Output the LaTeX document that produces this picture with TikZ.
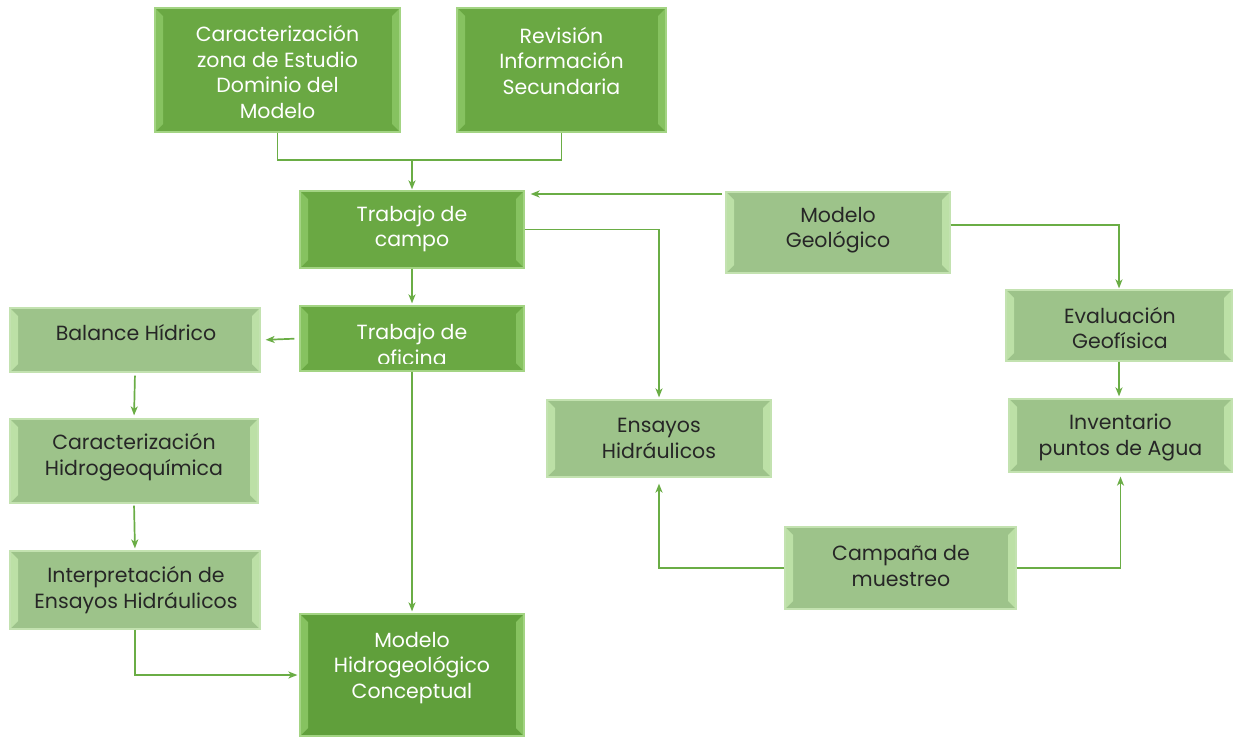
\documentclass[tikz,border=0pt]{standalone}
\usepackage{fontspec}
\setmainfont{Poppins}
\usetikzlibrary{arrows.meta}
\definecolor{dg}{HTML}{6AA843}
\definecolor{dgd}{HTML}{609F3B}
\definecolor{lg}{HTML}{9DC38A}
\definecolor{dbev}{HTML}{86C260}
\definecolor{lbev}{HTML}{BCE0A6}
\definecolor{dborder}{HTML}{A3D483}
\definecolor{lborder}{HTML}{C3E2B0}
\definecolor{lineg}{HTML}{6AAD45}
\definecolor{txt}{HTML}{262626}
\tikzset{
  bev/.style={path picture={
    \fill[#1] (path picture bounding box.south west) -- (path picture bounding box.north west)
      -- ([xshift=8pt,yshift=-8pt]path picture bounding box.north west)
      -- ([xshift=8pt,yshift=8pt]path picture bounding box.south west) -- cycle;
    \fill[#1] (path picture bounding box.south east) -- (path picture bounding box.north east)
      -- ([xshift=-8pt,yshift=-8pt]path picture bounding box.north east)
      -- ([xshift=-8pt,yshift=8pt]path picture bounding box.south east) -- cycle;
  }},
  dbox/.style={draw=dborder, line width=1.2pt, fill=dg, bev=dbev, inner sep=0pt},
  ddbox/.style={draw=dborder, line width=1.2pt, fill=dgd, bev=dbev, inner sep=0pt},
  lbox/.style={draw=lborder, line width=1.2pt, fill=lg, bev=lbev, inner sep=0pt},
  wtxt/.style={text=white, align=center, font=\fontsize{20.5}{25.5}\selectfont, inner sep=0pt},
  btxt/.style={text=txt, align=center, font=\fontsize{20.5}{25.5}\selectfont, inner sep=0pt},
  ln/.style={draw=lineg, line width=1.7pt},
  arr/.style={ln, -{Stealth[length=9pt,width=7pt,inset=2.5pt]}}
}
\begin{document}
\begin{tikzpicture}[x=1pt,y=-1pt]
\useasboundingbox (0,0) rectangle (1233,737);
% boxes
\node[dbox, minimum width=245pt, minimum height=124pt] (c1) at (277.5,70) {};
\node[wtxt] (c1t) at (277.5,72) {Caracterización\\zona de Estudio\\Dominio del\\Modelo};
\node[dbox, minimum width=209pt, minimum height=124pt] (rev) at (561.5,70) {};
\node[wtxt] (revt) at (561.5,61) {Revisión\\Información\\Secundaria};
\node[dbox, minimum width=224pt, minimum height=77pt] (campo) at (412,229.5) {};
\node[wtxt] (campot) at (412,229) {Trabajo de\\campo};
\node[dbox, minimum width=224pt, minimum height=65pt] (ofi) at (412,338.5) {};
\begin{scope}
\clip (300,306) rectangle (524,363);
\node[wtxt] (ofit) at (412,345) {Trabajo de\\oficina};
\end{scope}
\node[lbox, minimum width=224pt, minimum height=81pt] (geo) at (838,232.5) {};
\node[btxt] (geot) at (838,230) {Modelo\\Geológico};
\node[lbox, minimum width=250pt, minimum height=64pt] (bal) at (135,340) {};
\node[btxt] (balt) at (136,333) {Balance Hídrico};
\node[lbox, minimum width=248pt, minimum height=84pt] (hq) at (134,461) {};
\node[btxt] (hqt) at (134,457) {Caracterización\\Hidrogeoquímica};
\node[lbox, minimum width=250pt, minimum height=78pt] (interp) at (135,590) {};
\node[btxt] (interpt) at (136,590) {Interpretación de\\Ensayos Hidráulicos};
\node[ddbox, minimum width=224pt, minimum height=122pt] (mhc) at (412,675) {};
\node[wtxt] (mhct) at (412,668) {Modelo\\Hidrogeológico\\Conceptual};
\node[lbox, minimum width=226pt, minimum height=71pt] (evg) at (1119,325.5) {};
\node[btxt] (evgt) at (1120,328) {Evaluación\\Geofísica};
\node[lbox, minimum width=223pt, minimum height=73pt] (inv) at (1120.5,435.5) {};
\node[btxt] (invt) at (1120.5,437.5) {Inventario\\puntos de Agua};
\node[lbox, minimum width=224pt, minimum height=77pt] (ens) at (659,438.5) {};
\node[btxt] (enst) at (659,438.5) {Ensayos\\Hidráulicos};
\node[lbox, minimum width=231pt, minimum height=82pt] (camp) at (900.5,568) {};
\node[btxt] (campt) at (901,566) {Campaña de\\muestreo};
% connectors
\coordinate (j) at (412,160);
\draw[ln] (c1.south) |- (j) -| (rev.south);
\draw[arr, shorten >=1pt] (j) -- (campo.north);
\coordinate (g1) at (722,194);
\draw[arr, shorten >=6pt] (g1) -- (g1 -| campo.east);
\draw[arr, shorten >=2pt] (campo.east) -| (ens.north);
\draw[arr, shorten >=1pt] ([yshift=7.5pt]geo.east) -| (evg.north);
\draw[arr, shorten >=2pt] (evg.south) -- (evg.south |- inv.north);
\draw[arr, shorten >=6pt] (camp.west) -| (ens.south);
\draw[arr, shorten >=4pt] (camp.east) -| (inv.south);
\draw[arr, shorten >=2pt] (campo.south) -- (ofi.north);
\draw[arr, shorten <=5pt, shorten >=5pt] (ofi.west) -- (bal.east);
\draw[arr, shorten <=3pt, shorten >=3pt] (bal.south) -- (hq.north);
\draw[arr, shorten <=2pt, shorten >=2pt] (hq.south) -- (interp.north);
\draw[arr, shorten >=2pt] (interp.south) |- (mhc.west);
\draw[arr, shorten >=2pt] (ofi.south) -- (mhc.north);
\end{tikzpicture}
\end{document}
